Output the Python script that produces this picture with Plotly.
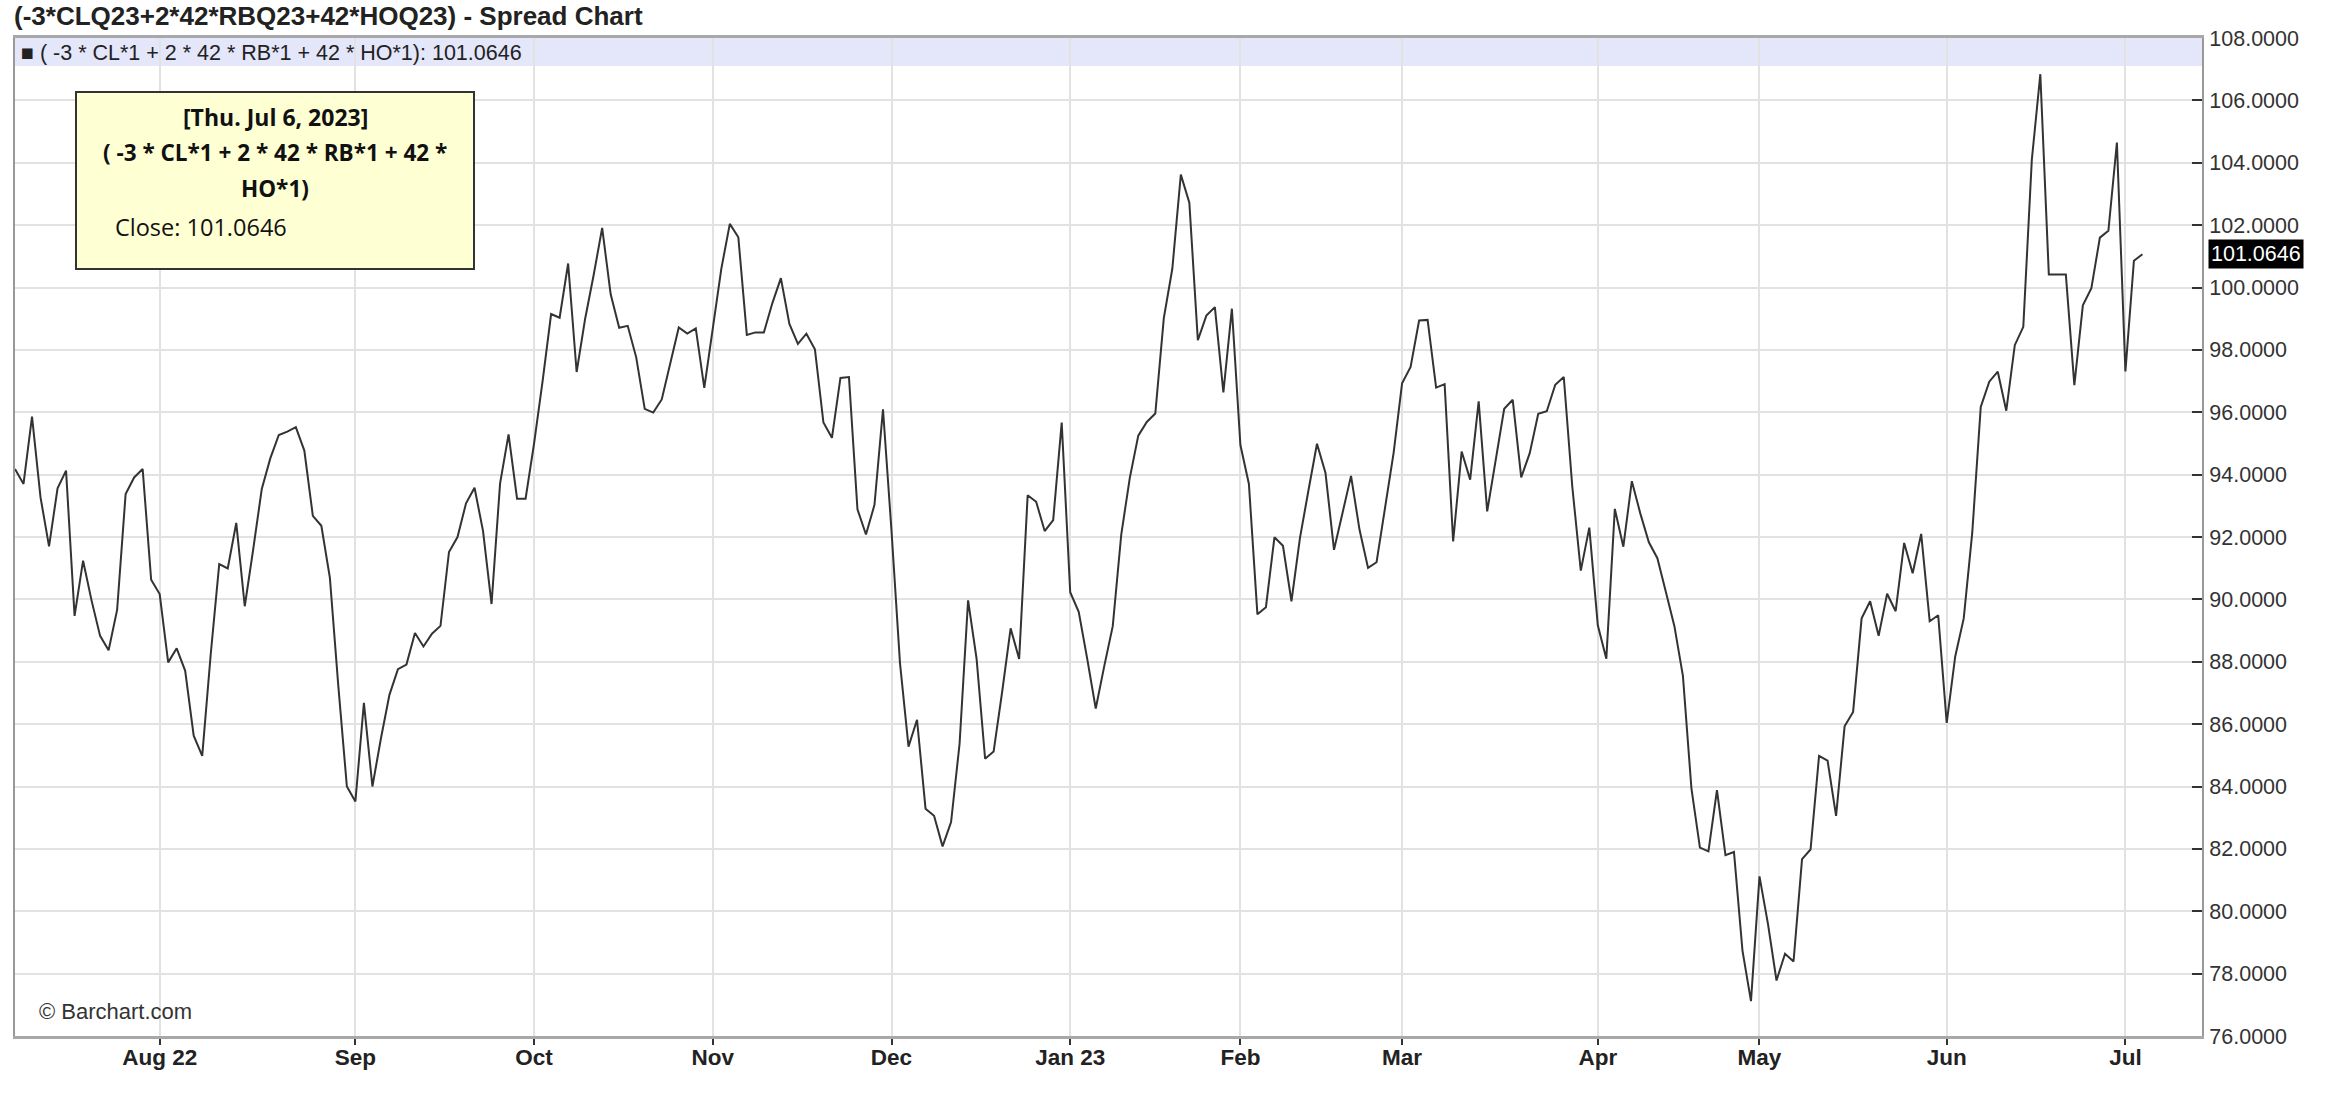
import pandas as pd
import plotly.graph_objects as go

# ---------------- data ----------------
holidays = ["2022-09-05", "2022-11-24", "2022-12-26", "2023-01-02", "2023-01-16",
            "2023-02-20", "2023-04-07", "2023-05-29", "2023-06-19", "2023-07-04"]

close_q3_2022 = [94.18, 93.70, 95.86, 93.27, 91.70, 93.56, 94.13, 89.47, 91.24, 89.96,
                 88.83, 88.37, 89.66, 93.38, 93.91, 94.18, 90.63, 90.17, 87.98, 88.43,
                 87.71, 85.63, 84.98, 88.24, 91.13, 90.99, 92.45, 89.78, 91.62, 93.54,
                 94.52, 95.27, 95.38, 95.52, 94.77, 92.68, 92.36, 90.70, 87.20, 84.00,
                 83.52, 86.68, 84.00, 85.54, 86.94, 87.76, 87.91, 88.92, 88.49, 88.90,
                 89.15, 91.52, 92.00, 93.08, 93.58, 92.19, 89.85, 93.71, 95.29, 93.23,
                 93.23]
close_q4_2022 = [95.00, 97.00, 99.15, 99.03, 100.77, 97.29, 99.00, 100.40, 101.91, 99.78,
                 98.71, 98.77, 97.76, 96.11, 95.99, 96.41, 97.55, 98.72, 98.52, 98.69,
                 96.78, 98.70, 100.60, 102.04, 101.61, 98.48, 98.56, 98.56, 99.50, 100.30,
                 98.83, 98.19, 98.52, 98.02, 95.67, 95.18, 97.10, 97.13, 92.89, 92.08,
                 93.03, 96.09, 92.20, 87.95, 85.28, 86.14, 83.29, 83.06, 82.08, 82.86,
                 85.37, 89.97, 88.09, 84.89, 85.12, 87.03, 89.07, 88.09, 93.34, 93.13,
                 92.19, 92.54, 95.67]
close_q1_2023 = [90.23, 89.60, 88.09, 86.50, 87.86, 89.14, 92.08, 93.89, 95.25, 95.69,
                 95.96, 99.02, 100.60, 103.62, 102.72, 98.31, 99.10, 99.37, 96.64, 99.32,
                 94.95, 93.70, 89.52, 89.75, 91.99, 91.72, 89.94, 91.97, 93.50, 94.99,
                 94.05, 91.59, 92.77, 93.96, 92.23, 91.01, 91.19, 92.98, 94.69, 96.93,
                 97.45, 98.94, 98.96, 96.79, 96.90, 91.86, 94.74, 93.84, 96.35, 92.82,
                 94.48, 96.11, 96.40, 93.91, 94.69, 95.95, 96.03, 96.88, 97.13, 93.62,
                 90.92, 92.30]
close_q2_2023 = [89.17, 88.10, 92.90, 91.69, 93.79, 92.75, 91.83, 91.32, 90.24, 89.14,
                 87.55, 83.94, 82.04, 81.92, 83.88, 81.80, 81.90, 78.74, 77.12, 81.12,
                 79.59, 77.78, 78.64, 78.39, 81.67, 81.98, 84.98, 84.83, 83.06, 85.93,
                 86.39, 89.39, 89.94, 88.83, 90.18, 89.62, 91.81, 90.84, 92.10, 89.30,
                 89.49, 86.04, 88.17, 89.39, 92.13, 96.17, 96.98, 97.30, 96.05, 98.15,
                 98.74, 104.09, 106.84, 100.42, 100.42, 100.42, 96.87, 99.43, 99.98, 101.60,
                 101.82, 104.65]
close_q3_2023 = [97.31, 100.86, 101.0646]

tick_dates = ["2022-08-01", "2022-09-01", "2022-10-03", "2022-11-01", "2022-12-01", "2023-01-03",
              "2023-02-01", "2023-03-01", "2023-04-03", "2023-05-01", "2023-06-01", "2023-07-03"]
tick_labels = ["Aug 22", "Sep", "Oct", "Nov", "Dec", "Jan 23",
               "Feb", "Mar", "Apr", "May", "Jun", "Jul"]
y_ticks = [76, 78, 80, 82, 84, 86, 88, 90, 92, 94, 96, 98, 100, 102, 104, 106, 108]

closes = close_q3_2022 + close_q4_2022 + close_q1_2023 + close_q2_2023 + close_q3_2023
days = pd.bdate_range("2022-07-07", "2023-07-06")
days = [d for d in days if d.strftime("%Y-%m-%d") not in holidays]
assert len(days) == len(closes), (len(days), len(closes))
last = closes[-1]

# ---------------- layout helpers (page pixel coords) ----------------
W, H = 2328, 1096
L, R, T, B = 15, 2202, 38, 1036   # plot area in page coordinates


def px(x):
    return (x - L) / (R - L)


def py(y):
    return (B - y) / (B - T)


SANS = "Liberation Sans, Arial, sans-serif"
TIP = "Open Sans, Noto Sans, sans-serif"

fig = go.Figure()
fig.add_trace(go.Scatter(x=days, y=closes, mode="lines",
                         line=dict(color="#333333", width=2), hoverinfo="x+y"))

shapes = [
    dict(type="rect", xref="paper", yref="paper", x0=0, x1=1, y0=py(66), y1=1,
         fillcolor="#e4e6fa", line=dict(width=0), layer="below"),
    dict(type="rect", xref="paper", yref="paper", x0=px(76), x1=px(474), y0=py(269), y1=py(92),
         fillcolor="#ffffd4", line=dict(color="#333333", width=2), layer="above"),
]

annotations = [
    dict(text="<b>(-3*CLQ23+2*42*RBQ23+42*HOQ23) - Spread Chart</b>", xref="paper", yref="paper",
         x=px(12), y=py(16), xanchor="left", yanchor="middle", showarrow=False,
         font=dict(family=SANS, size=26, color="#222222")),
    dict(text="■ ( -3 * CL*1 + 2 * 42 * RB*1 + 42 * HO*1): %.4f" % last, xref="paper", yref="paper",
         x=px(19), y=py(53), xanchor="left", yanchor="middle", showarrow=False,
         font=dict(family=SANS, size=21.5, color="#222222")),
    dict(text="© Barchart.com", xref="paper", yref="paper",
         x=px(37), y=py(1011), xanchor="left", yanchor="middle", showarrow=False,
         font=dict(family=SANS, size=22, color="#333333")),
    dict(text="<b>[Thu. Jul 6, 2023]</b>", xref="paper", yref="paper",
         x=px(275), y=py(117), xanchor="center", yanchor="middle", showarrow=False,
         font=dict(family=TIP, size=23, color="#111111")),
    dict(text="<b>( -3 * CL*1 + 2 * 42 * RB*1 + 42 *</b>", xref="paper", yref="paper",
         x=px(275), y=py(153), xanchor="center", yanchor="middle", showarrow=False,
         font=dict(family=TIP, size=22.5, color="#111111")),
    dict(text="<b>HO*1)</b>", xref="paper", yref="paper",
         x=px(275), y=py(189), xanchor="center", yanchor="middle", showarrow=False,
         font=dict(family=TIP, size=22.5, color="#111111")),
    dict(text="Close: %.4f" % last, xref="paper", yref="paper",
         x=px(113), y=py(227), xanchor="left", yanchor="middle", showarrow=False,
         font=dict(family=TIP, size=23.5, color="#111111")),
    dict(text="%.4f" % last, xref="paper", yref="y",
         x=1, y=last, xanchor="left", yanchor="middle", xshift=6, showarrow=False,
         bgcolor="#000000", borderpad=2,
         font=dict(family=SANS, size=21.5, color="#ffffff")),
]

fig.update_layout(
    width=W, height=H,
    margin=dict(l=L, r=W - R, t=T, b=H - B),
    paper_bgcolor="white", plot_bgcolor="white",
    showlegend=False,
    shapes=shapes, annotations=annotations,
    xaxis=dict(
        type="date",
        range=["2022-07-07", "2023-07-17"],
        rangebreaks=[dict(bounds=["sat", "mon"]), dict(values=holidays)],
        tickmode="array", tickvals=tick_dates, ticktext=tick_labels,
        tickfont=dict(family=SANS, size=22.5, color="#222222", weight="bold"),
        ticks="outside", ticklen=6, tickwidth=2, tickcolor="#333333",
        ticklabelstandoff=-7,
        showgrid=True, gridcolor="#e2e2e2", gridwidth=2,
        showline=True, linecolor="#a8a8a8", linewidth=3, mirror=True,
        zeroline=False,
    ),
    yaxis=dict(
        side="right", range=[76, 108],
        tickmode="array", tickvals=y_ticks, tickformat=".4f",
        tickfont=dict(family=SANS, size=21.5, color="#333333"),
        ticks="inside", ticklen=10, tickwidth=2, tickcolor="#333333",
        ticklabelstandoff=1,
        showgrid=True, gridcolor="#e2e2e2", gridwidth=2,
        showline=True, linecolor="#999999", linewidth=2, mirror=True,
        zeroline=False,
    ),
)

# remove the default 8px page margin so the figure fills the window exactly
fig.write_html("out.html",
               config={"displayModeBar": False},
               post_script="document.body.style.margin='0';document.body.style.overflow='hidden';")
